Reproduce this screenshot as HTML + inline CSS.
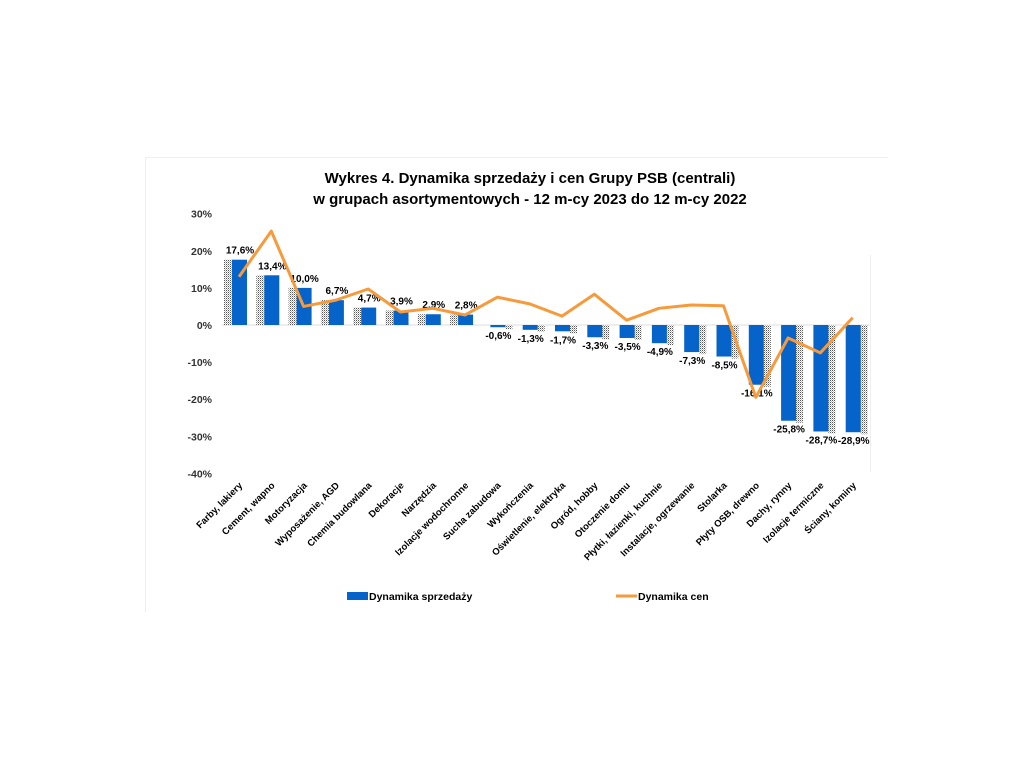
<!DOCTYPE html>
<html><head><meta charset="utf-8"><style>
body{margin:0;background:#fff;}
svg{display:block;font-family:"Liberation Sans",sans-serif;}
</style></head><body>
<svg id="s" width="1024" height="768" viewBox="0 0 1024 768">
<defs><pattern id="dot" width="2" height="2" patternUnits="userSpaceOnUse"><rect width="2" height="2" fill="#fff"/><rect width="1" height="1" fill="#555"/><rect x="1" y="1" width="1" height="1" fill="#bbb"/></pattern></defs>
<line x1="145.5" y1="157" x2="145.5" y2="612" stroke="#eee"/>
<line x1="145" y1="157.5" x2="888" y2="157.5" stroke="#eee"/>
<text x="530" y="183" text-anchor="middle" font-size="15" font-weight="bold">Wykres 4. Dynamika sprzedaży i cen Grupy PSB (centrali)</text>
<text x="530" y="204" text-anchor="middle" font-size="15" font-weight="bold">w grupach asortymentowych - 12 m-cy 2023 do 12 m-cy 2022</text>
<g id="g"></g>
<rect x="347" y="592" width="21" height="8" fill="#0563c9"/>
<text x="369" y="600" font-size="10.5" font-weight="bold">Dynamika sprzedaży</text>
<line x1="616" y1="596" x2="637" y2="596" stroke="#f79a3c" stroke-width="3"/>
<text x="638" y="600" font-size="10.5" font-weight="bold">Dynamika cen</text>
</svg>
<script>
var g=document.getElementById('g'),h='';
function y(v){return 325-3.71*v;}
[30,20,10,0,-10,-20,-30,-40].forEach(function(v){
 h+='<text x="212" y="'+(y(v)+4)+'" text-anchor="end" font-size="10.5" font-weight="bold" fill="#333">'+v+'%</text>';
});
h+='<line x1="870.5" y1="255" x2="870.5" y2="472" stroke="#eee"/>';
h+='<line x1="222" x2="870" y1="325" y2="325" stroke="#ddd"/>';
var b=[17.6,13.4,10,6.7,4.7,3.9,2.9,2.8,-0.6,-1.3,-1.7,-3.3,-3.5,-4.9,-7.3,-8.5,-16.1,-25.8,-28.7,-28.9];
var l=[13,25.3,5,6.7,9.7,3.5,4.5,2.7,7.5,5.7,2.4,8.3,1.3,4.5,5.4,5.2,-19.5,-3.5,-7.5,2];
var n=["Farby, lakiery","Cement, wapno","Motoryzacja","Wyposażenie, AGD","Chemia budowlana","Dekoracje","Narzędzia","Izolacje wodochronne","Sucha zabudowa","Wykończenia","Oświetlenie, elektryka","Ogród, hobby","Otoczenie domu","Płytki, łazienki, kuchnie","Instalacje, ogrzewanie","Stolarka","Płyty OSB, drewno","Dachy, rynny","Izolacje termiczne","Ściany, kominy"];
var pts=[];
b.forEach(function(v,i){
 var c=239+32.3*i,t=Math.min(y(v),325),hh=Math.abs(y(v)-325);
 if(v>0)h+='<rect x="'+(c-15)+'" y="'+t+'" width="8" height="'+hh+'" fill="url(#dot)"/>';
 else h+='<rect x="'+(c+8)+'" y="'+t+'" width="7" height="'+(hh+2)+'" fill="url(#dot)"/>';
 h+='<rect x="'+(c-7)+'" y="'+t+'" width="15" height="'+hh+'" fill="#0563c9"/>';
 var lab=(''+v).replace('.',',')+'%';if(lab.indexOf(',')<0)lab=lab.replace('%',',0%');
 var ly=v>0?y(v)-6:y(v)+12;
 h+='<text x="'+(c+1)+'" y="'+ly+'" text-anchor="middle" font-size="10" font-weight="bold">'+lab+'</text>';
 h+='<text transform="translate('+(c+4)+',486) rotate(-45)" text-anchor="end" font-size="9.5" font-weight="bold">'+n[i]+'</text>';
 pts.push(c+','+y(l[i]));
});
h+='<polyline points="'+pts.join(' ')+'" fill="none" stroke="#f79a3c" stroke-width="3" stroke-linejoin="round"/>';
g.innerHTML=h;
</script>
</body></html>
